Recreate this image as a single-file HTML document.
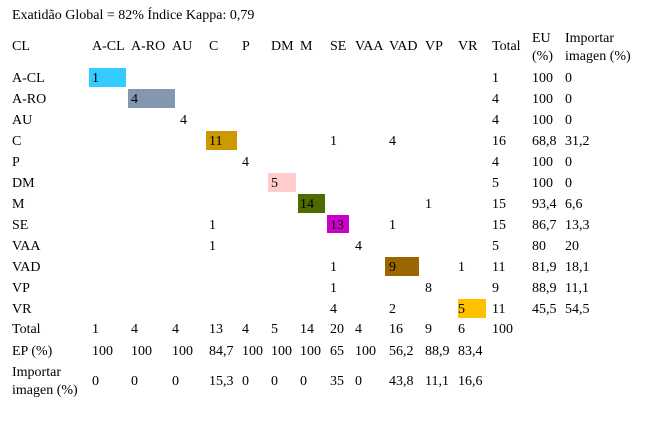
<!DOCTYPE html>
<html><head><meta charset="utf-8"><style>
body{margin:0;width:647px;height:434px;background:#fff;position:relative;overflow:hidden;font-family:"Liberation Serif",serif;font-size:14px;color:#000}
.t{position:absolute;line-height:16px;white-space:nowrap}
.b{position:absolute}
</style></head><body>
<div class="t" style="left:12px;top:8px">Exatidão Global = 82% Índice Kappa: 0,79</div>
<div class="b" style="left:89px;top:68px;width:37px;height:19px;background:#33ccff"></div>
<div class="b" style="left:128px;top:89px;width:47px;height:19px;background:#8497b0"></div>
<div class="b" style="left:206px;top:131px;width:31px;height:19px;background:#cc9900"></div>
<div class="b" style="left:268px;top:173px;width:28px;height:19px;background:#ffcccc"></div>
<div class="b" style="left:298px;top:194px;width:27px;height:19px;background:#4f6b00"></div>
<div class="b" style="left:327px;top:215px;width:22px;height:18px;background:#cc00cc"></div>
<div class="b" style="left:385px;top:257px;width:34px;height:19px;background:#996600"></div>
<div class="b" style="left:458px;top:299px;width:28px;height:19px;background:#ffc000"></div>
<div id="c"></div>
<script>
const xs={CL:12,"A-CL":92,"A-RO":131,AU:180,C:209,P:242,DM:271,M:300,SE:330,VAA:355,VAD:389,VP:425,VR:458,Total:492,EU:532,IMP:565};
const c=document.getElementById('c');
function put(txt,x,cy,name){
  const d=document.createElement('div');d.className='t';d.textContent=txt;
  d.style.left=x+'px';d.style.top=(cy-7)+'px';
  
  
  c.appendChild(d);
}
const headers=[["CL",12],["A-CL",92],["A-RO",131],["AU",172],["C",209],["P",242],["DM",271],["M",300],["SE",330],["VAA",355],["VAD",389],["VP",425],["VR",458],["Total",492]];
headers.forEach(h=>put(h[0],h[1],46,'column-header'));
put("EU",532,38,'column-header');put("(%)",532,56,'column-header');
put("Importar",565,38,'column-header');put("imagen (%)",565,56,'column-header');
const rows=[
 ["A-CL",{"A-CL":"1"},"1","100","0"],
 ["A-RO",{"A-RO":"4"},"4","100","0"],
 ["AU",{AU:"4"},"4","100","0"],
 ["C",{C:"11",SE:"1",VAD:"4"},"16","68,8","31,2"],
 ["P",{P:"4"},"4","100","0"],
 ["DM",{DM:"5"},"5","100","0"],
 ["M",{M:"14",VP:"1"},"15","93,4","6,6"],
 ["SE",{C:"1",SE:"13",VAD:"1"},"15","86,7","13,3"],
 ["VAA",{C:"1",VAA:"4"},"5","80","20"],
 ["VAD",{SE:"1",VAD:"9",VR:"1"},"11","81,9","18,1"],
 ["VP",{SE:"1",VP:"8"},"9","88,9","11,1"],
 ["VR",{SE:"4",VAD:"2",VR:"5"},"11","45,5","54,5"]
];
rows.forEach((r,i)=>{
  const cy=78+i*21;
  put(r[0],12,cy,'row-label');
  for(const k in r[1]){put(r[1][k],xs[k],cy,'cell-value');}
  put(r[2],492,cy,'row-total');put(r[3],532,cy,'user-accuracy');put(r[4],565,cy,'commission-error');
});
const cols=["A-CL","A-RO","AU","C","P","DM","M","SE","VAA","VAD","VP","VR"];
const tot=["1","4","4","13","4","5","14","20","4","16","9","6"];
const ep=["100","100","100","84,7","100","100","100","65","100","56,2","88,9","83,4"];
const om=["0","0","0","15,3","0","0","0","35","0","43,8","11,1","16,6"];
const bx=[92,131,172,209,242,271,300,330,355,389,425,458];
put("Total",12,329,'row-label');put("EP (%)",12,351,'row-label');
put("Importar",12,372,'row-label');put("imagen (%)",12,390,'row-label');
cols.forEach((k,i)=>{put(tot[i],bx[i],329,'column-total');put(ep[i],bx[i],351,'producer-accuracy');put(om[i],bx[i],381,'omission-error');});
put("100",492,329,'grand-total');
</script>
</body></html>
